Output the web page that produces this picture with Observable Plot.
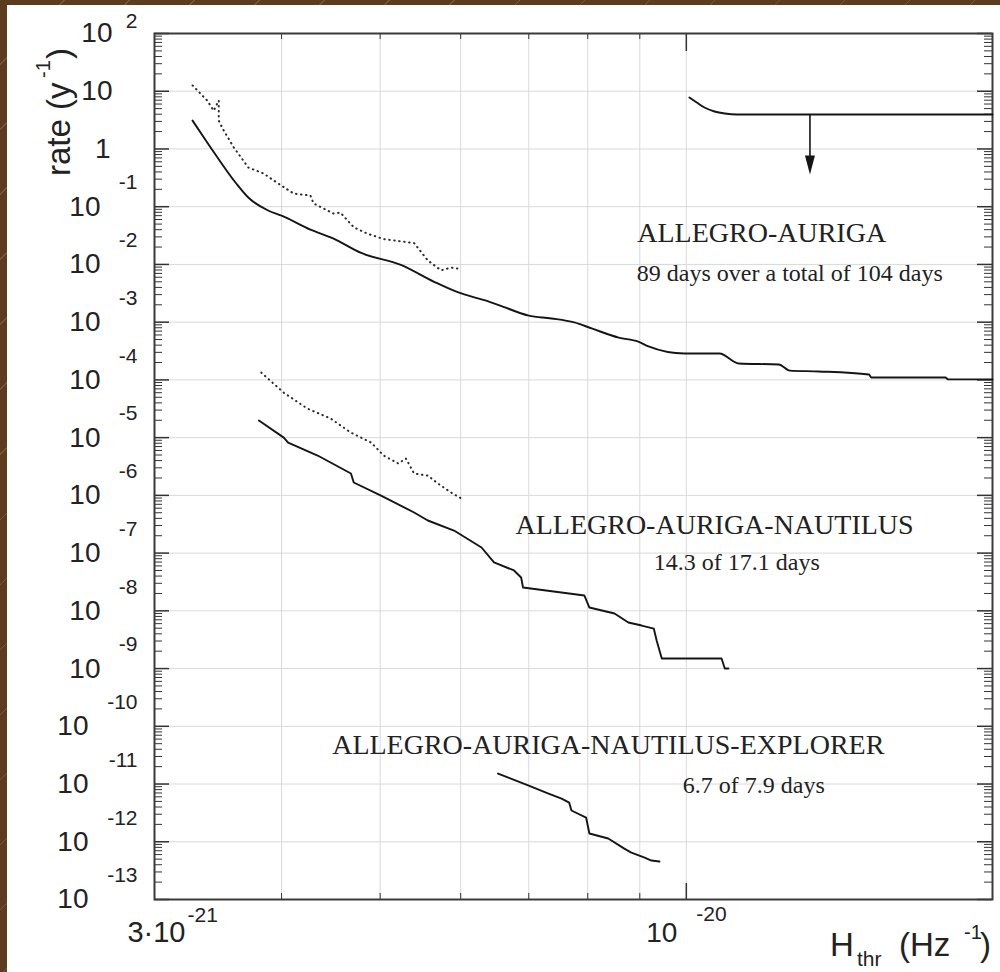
<!DOCTYPE html>
<html>
<head>
<meta charset="utf-8">
<script src="https://cdn.jsdelivr.net/npm/d3@7"></script>
<script src="https://cdn.jsdelivr.net/npm/@observablehq/plot@0.6"></script>
<style>
html, body { margin: 0; padding: 0; }
body {
  width: 1000px; height: 972px; overflow: hidden; position: relative;
  background-color: #5b3c1e;
  background-image: repeating-linear-gradient(135deg, rgba(0,0,0,0) 0px, rgba(0,0,0,0) 45px, rgba(150,110,62,0.55) 45px, rgba(150,110,62,0.55) 46px);
}
#chart { position: absolute; left: 7px; top: 5px; width: 993px; height: 967px; background: #fff; }
#chart svg { display: block; background: #fff; }
</style>
</head>
<body>
<div id="chart"></div>
<script>
// ---------- data (x in units of 1e-21 Hz^-1, y = rate in 1/yr) ----------
const aaSolidX = [3.27,3.37,3.46,3.61,3.71,3.88,4.0,4.27,4.5,4.79,5.24,5.65,5.96,6.33,6.53,7.0,7.37,7.76,8.07,8.58,8.97,9.18,9.96,10.78,11.26,12.33,12.64,13.5,15.12,15.2,17.97,18.1,20];
const aaSolidY = [3.1,1.4,0.71,0.252,0.144,0.086,0.070,0.040,0.028,0.0158,0.0098,0.0050,0.0033,0.0024,0.0020,0.0013,0.00116,0.00099,0.00078,0.00054,0.00046,0.00038,0.000286,0.000286,0.000192,0.000185,0.000145,0.00014,0.000124,0.00011,0.00011,0.000102,0.000102];

const aaDotX = [3.27,3.38,3.43,3.47,3.47,3.50,3.59,3.71,3.84,3.97,4.11,4.27,4.30,4.50,4.57,4.71,4.86,5.04,5.40,5.57,5.74,5.87,5.96];
const aaDotY = [12.6,6.9,4.6,6.9,3.1,2.26,1.06,0.477,0.376,0.252,0.169,0.156,0.114,0.076,0.079,0.044,0.034,0.0275,0.0234,0.0117,0.0079,0.0088,0.0085];

const aanSolidX = [3.80,4.02,4.06,4.34,4.68,4.71,5.01,5.40,5.57,5.91,6.29,6.47,6.77,6.88,6.91,7.94,8.03,8.50,8.77,9.04,9.29,9.35,9.46,10.83,10.91,11.0];
const aanSolidY = [1.98e-5,1.0e-5,8.2e-6,4.9e-6,2.39e-6,1.67e-6,9.9e-7,5.05e-7,3.67e-7,2.46e-7,1.25e-7,6.9e-8,5.0e-8,3.78e-8,2.53e-8,1.84e-8,1.14e-8,8.98e-9,6.27e-9,5.56e-9,4.93e-9,3.06e-9,1.49e-9,1.49e-9,1.0e-9,1.0e-9];

const aanDotX = [3.82,4.02,4.24,4.47,4.68,4.90,5.04,5.21,5.30,5.40,5.57,5.70,5.87,6.01];
const aanDotY = [1.34e-4,6.0e-5,3.19e-5,2.14e-5,1.22e-5,8.2e-6,4.9e-6,3.56e-6,4.35e-6,2.39e-6,2.2e-6,1.6e-6,1.12e-6,8.8e-7];

const aaneSolidX = [6.53,7.0,7.32,7.54,7.67,7.71,7.97,8.03,8.38,8.69,8.83,9.10,9.24,9.41];
const aaneSolidY = [1.52e-11,9.4e-12,6.84e-12,5.6e-12,4.78e-12,3.48e-12,2.63e-12,1.39e-12,1.14e-12,7.6e-13,6.5e-13,5.3e-13,4.73e-13,4.54e-13];

const limitX = [10.07,10.24,10.42,10.66,10.91,11.21,20];
const limitY = [7.8,6.38,5.23,4.46,4.11,3.95,3.95];
const arrowX = 13.23, arrowTop = 3.95, arrowTip = 0.36;

// annotations: [text, x centre (1e-21), baseline y]
const labelTitles = ["ALLEGRO-AURIGA", "ALLEGRO-AURIGA-NAUTILUS", "ALLEGRO-AURIGA-NAUTILUS-EXPLORER"];
const labelTitleX = [11.86, 10.66, 8.38];
const labelTitleY = [0.024, 2.18e-7, 3.37e-11];
const labelSubs = ["89 days over a total of 104 days", "14.3 of 17.1 days", "6.7 of 7.9 days"];
const labelSubX = [12.64, 11.21, 11.65];
const labelSubY = [0.00526, 5.19e-8, 7.12e-12];

// axes
const xDomain = [3, 20];
const yDomain = [1e-13, 1e2];
const yTickExp = [2,1,0,-1,-2,-3,-4,-5,-6,-7,-8,-9,-10,-11,-12,-13];
const xGridVals = [4,5,6,7,8,9,10];
const xMinorTicks = [4,5,6,7,8,9];
const xMajorTicks = [10];
const xLabelVals = [3, 10];
const xLabelBase = ["3·10", "10"];
const xLabelExp = ["-21", "-20"];

// ---------- build ----------
const E = 1e-21;
const series = (xs, ys) => xs.map((x, i) => ({x: x * E, y: ys[i]}));
const W = 993, H = 967, mL = 147, mR = 8, mT = 28, mB = 73;
const fw = W - mL - mR, fh = H - mT - mB;

const decades = yTickExp.map(e => 10 ** e);
const minors = [];
for (const e of yTickExp) if (e < 2) for (let k = 2; k <= 9; k++) minors.push(k * 10 ** e);

const baseText = e => (e === 0 ? "1" : "10");
const expText = e => (e === 0 || e === 1 ? "" : String(e));
const sans = "Liberation Sans, Arial, Helvetica, sans-serif";
const serif = "Liberation Serif, Times New Roman, serif";

const arrowHead = {
  draw(context) {
    context.moveTo(-5, -19);
    context.lineTo(5, -19);
    context.lineTo(0, 0);
    context.closePath();
  }
};

const yBaseMark = (filter, dx) => Plot.text(yTickExp.filter(filter), {
  y: e => 10 ** e, text: baseText, frameAnchor: "left", textAnchor: "end",
  dx, fontSize: 28, fontFamily: sans, fill: "#222"
});
const yExpMark = (filter, dy) => Plot.text(yTickExp.filter(filter), {
  y: e => 10 ** e, text: expText, frameAnchor: "left", textAnchor: "end",
  dx: -17, dy, fontSize: 21, fontFamily: sans, fill: "#222"
});
const dotted = {x: "x", y: "y", stroke: "#2a2a2a", strokeWidth: 2, strokeDasharray: "0.5,4.5", strokeLinecap: "round"};
const solid = {x: "x", y: "y", stroke: "#151515", strokeWidth: 1.9, strokeLinejoin: "round"};

const plot = Plot.plot({
  width: W, height: H,
  marginLeft: mL, marginRight: mR, marginTop: mT, marginBottom: mB,
  style: {background: "#fff"},
  x: {type: "log", domain: xDomain.map(v => v * E), axis: null},
  y: {type: "log", domain: yDomain, axis: null},
  marks: [
    // grid
    Plot.ruleY(decades.slice(1, -1), {stroke: "#d9d9d9", strokeWidth: 1}),
    Plot.ruleX(xGridVals.map(v => v * E), {stroke: "#d9d9d9", strokeWidth: 1}),
    // y ticks (inward, left and right)
    Plot.tickY(decades, {y: d => d, insetRight: fw - 15, stroke: "#333", strokeWidth: 1.5}),
    Plot.tickY(decades, {y: d => d, insetLeft: fw - 15, stroke: "#333", strokeWidth: 1.5}),
    Plot.tickY(minors, {y: d => d, insetRight: fw - 8, stroke: "#333", strokeWidth: 1}),
    Plot.tickY(minors, {y: d => d, insetLeft: fw - 8, stroke: "#333", strokeWidth: 1}),
    // x ticks (inward, bottom and top)
    Plot.tickX(xMinorTicks.map(v => v * E), {x: d => d, insetTop: fh - 6, stroke: "#333", strokeWidth: 1}),
    Plot.tickX(xMinorTicks.map(v => v * E), {x: d => d, insetBottom: fh - 6, stroke: "#333", strokeWidth: 1}),
    Plot.tickX(xMajorTicks.map(v => v * E), {x: d => d, insetTop: fh - 16, stroke: "#333", strokeWidth: 1.5}),
    Plot.tickX(xMajorTicks.map(v => v * E), {x: d => d, insetBottom: fh - 18, stroke: "#333", strokeWidth: 1.5}),
    Plot.frame({stroke: "#3a3a3a", strokeWidth: 2}),
    // curves
    Plot.line(series(aaDotX, aaDotY), dotted),
    Plot.line(series(aaSolidX, aaSolidY), {...solid, curve: "monotone-x"}),
    Plot.line(series(aanDotX, aanDotY), dotted),
    Plot.line(series(aanSolidX, aanSolidY), solid),
    Plot.line(series(aaneSolidX, aaneSolidY), solid),
    Plot.line(series(limitX, limitY), {...solid, curve: "monotone-x"}),
    Plot.ruleX([arrowX * E], {y1: arrowTop, y2: arrowTip * 1.6, stroke: "#151515", strokeWidth: 1.6}),
    Plot.dot([arrowX * E], {x: d => d, y: () => arrowTip, symbol: arrowHead, fill: "#151515", stroke: "none"}),
    // annotations
    Plot.text(labelTitles, {x: (d, i) => labelTitleX[i] * E, y: (d, i) => labelTitleY[i], text: d => d,
      textAnchor: "middle", lineAnchor: "bottom", fontSize: 28, fontFamily: serif, fill: "#222"}),
    Plot.text(labelSubs, {x: (d, i) => labelSubX[i] * E, y: (d, i) => labelSubY[i], text: d => d,
      textAnchor: "middle", lineAnchor: "bottom", fontSize: 24, fontFamily: serif, fill: "#222"}),
    // y tick labels
    yBaseMark(e => expText(e).length <= 1 && e !== 0, -42),
    yBaseMark(e => e === 0, -44),
    yBaseMark(e => expText(e).length === 2, -54),
    yBaseMark(e => expText(e).length === 3, -66),
    yExpMark(e => e === 2, -12),
    yExpMark(e => e < 0, -24),
    // x tick labels
    Plot.text([xLabelVals[0]], {x: d => d * E, text: () => xLabelBase[0], frameAnchor: "bottom", textAnchor: "end", dx: 31, dy: 42, fontSize: 29, fontFamily: sans, fill: "#222"}),
    Plot.text([xLabelVals[0]], {x: d => d * E, text: () => xLabelExp[0], frameAnchor: "bottom", textAnchor: "start", dx: 33, dy: 22, fontSize: 21, fontFamily: sans, fill: "#222"}),
    Plot.text([xLabelVals[1]], {x: d => d * E, text: () => xLabelBase[1], frameAnchor: "bottom", textAnchor: "end", dx: -9, dy: 42, fontSize: 28, fontFamily: sans, fill: "#222"}),
    Plot.text([xLabelVals[1]], {x: d => d * E, text: () => xLabelExp[1], frameAnchor: "bottom", textAnchor: "start", dx: 10, dy: 21, fontSize: 21, fontFamily: sans, fill: "#222"})
  ]
});

document.getElementById("chart").appendChild(plot);

// axis titles with sub/superscripts
const svg = d3.select(plot);
const xt = svg.append("text").attr("font-family", sans).attr("fill", "#222").attr("text-anchor", "start");
xt.append("tspan").attr("x", 823).attr("y", 951).attr("font-size", 33).text("H");
xt.append("tspan").attr("x", 850).attr("y", 961).attr("font-size", 21).text("thr");
xt.append("tspan").attr("x", 892).attr("y", 951).attr("font-size", 33).text("(Hz");
xt.append("tspan").attr("x", 957).attr("y", 934).attr("font-size", 20).text("-1");
xt.append("tspan").attr("x", 973).attr("y", 951).attr("font-size", 33).text(")");

const yt = svg.append("text").attr("font-family", sans).attr("fill", "#222").attr("text-anchor", "start")
  .attr("transform", "translate(63,171) rotate(-90)");
yt.append("tspan").attr("x", 0).attr("y", 0).attr("font-size", 33).text("rate (y");
yt.append("tspan").attr("x", 98).attr("y", -20).attr("font-size", 20).text("-1");
yt.append("tspan").attr("x", 117).attr("y", 0).attr("font-size", 33).text(")");
</script>
</body>
</html>
